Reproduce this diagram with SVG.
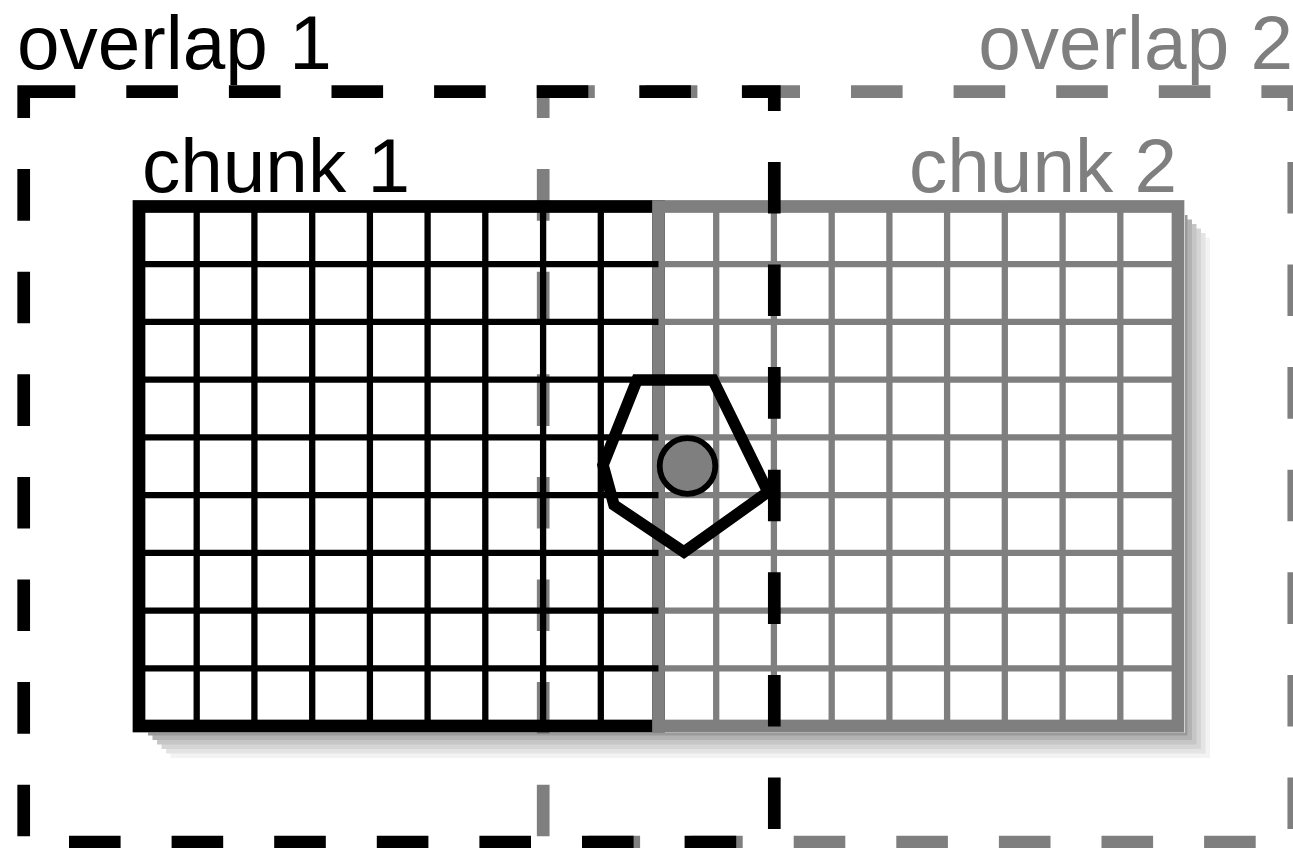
<svg xmlns="http://www.w3.org/2000/svg" width="1293" height="848" viewBox="0 0 1293 848">
<style>
.lbl{font-family:"Liberation Sans",Arial,Helvetica,sans-serif;font-size:76.5px}
.blk{fill:#000}
.gry{fill:#7f7f7f}
.dash{fill:none;stroke-width:12.7;stroke-dasharray:51.6 51;stroke-linejoin:miter}
.b1{stroke:#000}
.g1{stroke:#7f7f7f}
.border{fill:none;stroke-width:12.7}
.thin{stroke-width:6.3;fill:none}
</style>
<rect width="1293" height="848" fill="#fff"/>
<g id="shadow">
<rect x="170.5" y="237.5" width="1039.5" height="520.5" fill="#f3f3f3"/>
<rect x="166" y="233" width="1039.5" height="520.5" fill="#e4e4e4"/>
<rect x="161.5" y="228.5" width="1039.5" height="520.5" fill="#d5d5d5"/>
<rect x="157" y="224" width="1039.5" height="520.5" fill="#c6c6c6"/>
<rect x="152.5" y="219.5" width="1039.5" height="520.5" fill="#b2b2b2"/>
<rect x="148" y="215" width="1039.5" height="520.5" fill="#9a9a9a"/>
</g>
<g id="grid-backdrop">
<rect x="133" y="200" width="1052" height="532.5" fill="#fff"/>
</g>
<g id="overlap2">
<rect class="dash g1" x="543.2" y="91.7" width="750.6" height="750.3"/>
<text class="lbl gry" x="1293" y="69" text-anchor="end">overlap 2</text>
</g>
<g id="chunk1">
<rect class="border b1" x="139" y="206.5" width="519.5" height="519.5"/>
<g class="thin" stroke="#000">
<line x1="196.7" y1="206.5" x2="196.7" y2="726"/>
<line x1="254.4" y1="206.5" x2="254.4" y2="726"/>
<line x1="312.2" y1="206.5" x2="312.2" y2="726"/>
<line x1="369.9" y1="206.5" x2="369.9" y2="726"/>
<line x1="427.6" y1="206.5" x2="427.6" y2="726"/>
<line x1="485.3" y1="206.5" x2="485.3" y2="726"/>
<line x1="543.1" y1="206.5" x2="543.1" y2="726"/>
<line x1="600.8" y1="206.5" x2="600.8" y2="726"/>
</g>
<text class="lbl blk" x="142" y="191.7">chunk 1</text>
</g>
<g id="chunk2">
<rect class="border g1" x="658.5" y="206.5" width="519.5" height="519.5"/>
<g class="thin" stroke="#7f7f7f">
<line x1="716.2" y1="206.5" x2="716.2" y2="726"/>
<line x1="773.9" y1="206.5" x2="773.9" y2="726"/>
<line x1="831.7" y1="206.5" x2="831.7" y2="726"/>
<line x1="889.4" y1="206.5" x2="889.4" y2="726"/>
<line x1="947.1" y1="206.5" x2="947.1" y2="726"/>
<line x1="1004.8" y1="206.5" x2="1004.8" y2="726"/>
<line x1="1062.6" y1="206.5" x2="1062.6" y2="726"/>
<line x1="1120.3" y1="206.5" x2="1120.3" y2="726"/>
<line x1="658.5" y1="264.2" x2="1178" y2="264.2"/>
<line x1="658.5" y1="321.9" x2="1178" y2="321.9"/>
<line x1="658.5" y1="379.7" x2="1178" y2="379.7"/>
<line x1="658.5" y1="437.4" x2="1178" y2="437.4"/>
<line x1="658.5" y1="495.1" x2="1178" y2="495.1"/>
<line x1="658.5" y1="552.8" x2="1178" y2="552.8"/>
<line x1="658.5" y1="610.6" x2="1178" y2="610.6"/>
<line x1="658.5" y1="668.3" x2="1178" y2="668.3"/>
</g>
<text class="lbl gry" x="1177" y="191.7" text-anchor="end">chunk 2</text>
</g>
<g id="chunk1-rows" class="thin" stroke="#000">
<line x1="139" y1="264.2" x2="658.5" y2="264.2"/>
<line x1="139" y1="321.9" x2="658.5" y2="321.9"/>
<line x1="139" y1="379.7" x2="658.5" y2="379.7"/>
<line x1="139" y1="437.4" x2="658.5" y2="437.4"/>
<line x1="139" y1="495.1" x2="658.5" y2="495.1"/>
<line x1="139" y1="552.8" x2="658.5" y2="552.8"/>
<line x1="139" y1="610.6" x2="658.5" y2="610.6"/>
<line x1="139" y1="668.3" x2="658.5" y2="668.3"/>
</g>
<g id="overlap1">
<rect class="dash b1" x="23.7" y="91.7" width="750.6" height="750.3"/>
<text class="lbl blk" x="17" y="69">overlap 1</text>
</g>
<g id="region">
<polygon points="637,380 713,380 768,492 684,552 614,505 603,465" fill="none" stroke="#000" stroke-width="11.5" stroke-linejoin="miter"/>
</g>
<g id="point">
<circle cx="687.5" cy="466" r="27.8" fill="#7f7f7f" stroke="#000" stroke-width="5.8"/>
</g>
</svg>
